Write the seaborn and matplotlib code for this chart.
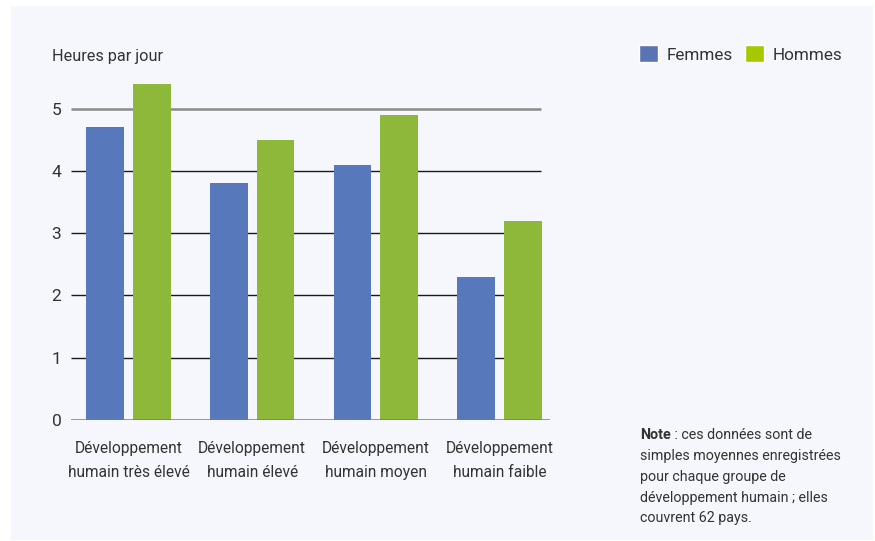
import matplotlib
matplotlib.use("Agg")
import matplotlib.pyplot as plt
from matplotlib.patches import Rectangle, Patch
from matplotlib import font_manager
import seaborn as sns
import pandas as pd

# data
groups = ["Développement\nhumain très élevé", "Développement\nhumain élevé",
          "Développement\nhumain moyen", "Développement\nhumain faible"]
femmes = [4.7, 3.8, 4.1, 2.3]
hommes = [5.4, 4.5, 4.9, 3.2]
yticks = [0, 1, 2, 3, 4, 5]

sns.set_theme(style="white")
names = {f.name for f in font_manager.fontManager.ttflist}
font = "Liberation Sans Narrow" if "Liberation Sans Narrow" in names else "Roboto"
plt.rcParams["font.family"] = [font, "DejaVu Sans"]
txt = "#333333"

df = pd.DataFrame({
    "groupe": groups * 2,
    "sexe": ["Femmes"] * 4 + ["Hommes"] * 4,
    "heures": femmes + hommes,
})

W, H = 875, 541
fig = plt.figure(figsize=(W / 100, H / 100), dpi=100)
fig.patch.set_facecolor("white")
# light panel behind everything
fig.patches.append(Rectangle((11 / W, 1 - 540 / H), (873 - 11) / W, (540 - 6) / H,
                             transform=fig.transFigure, facecolor="#F5F7FC",
                             edgecolor="none", zorder=-5))

ax = fig.add_axes([71 / W, 1 - 420 / H, (550 - 71) / W, (420 - 75) / H])
ax.set_facecolor("none")

# grid lines behind the bars
for v in yticks[1:]:
    if v == 5:
        ax.hlines(v, -0.465, 3.336, color="#8a8a8a", lw=1.8, zorder=0)
    else:
        ax.hlines(v, -0.465, 3.336, color="#1a1a1a", lw=1.0, zorder=0)
ax.axhline(0, color="#7a7a7a", lw=1.8, zorder=3)

sns.barplot(data=df, x="groupe", y="heures", hue="sexe",
            palette={"Femmes": "#5878BC", "Hommes": "#8DB83A"},
            width=0.755, gap=0.19, saturation=1, linewidth=0, legend=False,
            ax=ax, zorder=2)

ax.set_xlim(-0.465, 3.408)
ax.set_ylim(0, 5.54)
ax.set_yticks(yticks)
ax.set_yticklabels([str(v) for v in yticks], fontsize=12.5, color=txt)
ax.tick_params(axis="y", length=0, pad=7)
ax.tick_params(axis="x", length=0, pad=15)
for lab in ax.get_xticklabels():
    lab.set_fontsize(11.2)
    lab.set_color(txt)
    lab.set_linespacing(1.75)
ax.set_xlabel("")
ax.set_ylabel("")
for s in ax.spines.values():
    s.set_visible(False)

fig.text(52 / W, 1 - 56 / H, "Heures par jour", fontsize=11.7, color=txt,
         va="center", ha="left")

handles = [Patch(facecolor="#5A73B3", label="Femmes"),
           Patch(facecolor="#A5C800", label="Hommes")]
fig.legend(handles=handles, loc="center left", bbox_to_anchor=(624 / W, 1 - 54 / H),
           ncol=2, frameon=False, fontsize=12.3, handlelength=1.1, handleheight=1.1,
           handletextpad=0.5, columnspacing=0.7, labelcolor=txt)

fs = 10.3
t = fig.text(640 / W, 1 - 428 / H, "Note", fontsize=fs, color=txt, va="top",
             fontweight="bold")
plt.annotate(" : ces données sont de", xy=(1, 0), xycoords=t, fontsize=fs,
             color=txt, va="bottom", ha="left")
note = ("simples moyennes enregistrées\n"
        "pour chaque groupe de\n"
        "développement humain ; elles\n"
        "couvrent 62 pays.")
fig.text(640 / W, 1 - 449 / H, note, fontsize=fs, color=txt, va="top",
         linespacing=1.62)

fig.savefig("out.png", dpi=100)
